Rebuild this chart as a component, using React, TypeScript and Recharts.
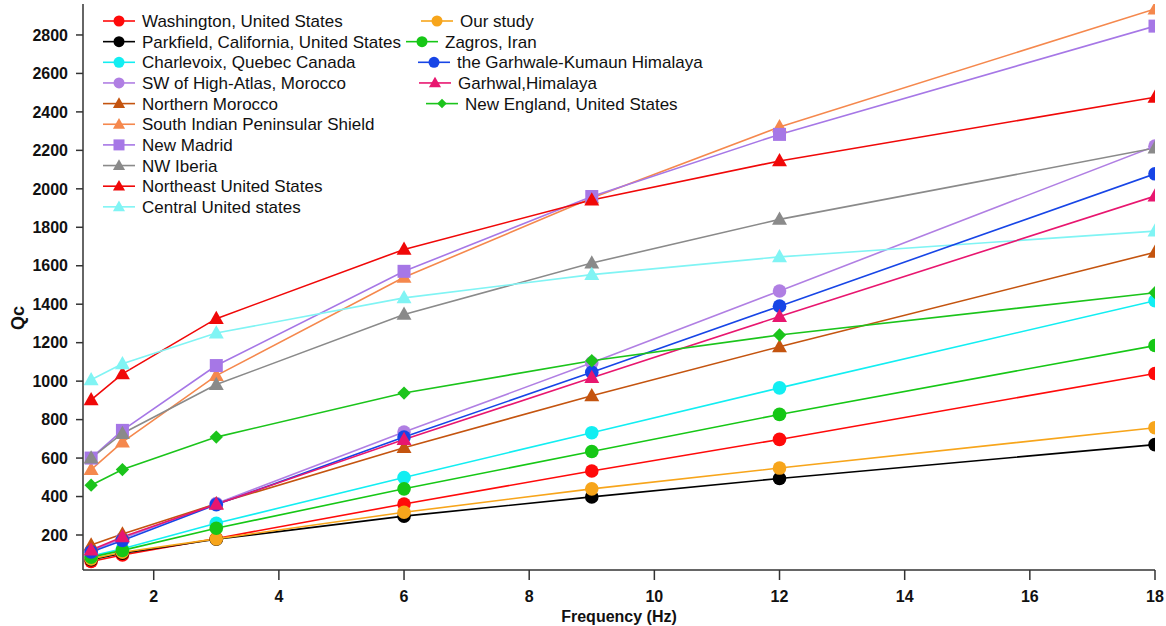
import React from 'react'
import { LineChart, Line, XAxis, YAxis, Legend } from 'recharts'

// frequencies (Hz) where Qc was estimated
const freqs = [1, 1.5, 3, 6, 9, 12, 18]

// Qc values per study, one entry per frequency
const washington = [62, 96, 182, 361, 533, 697, 1040]
const parkfield = [72, 105, 178, 298, 398, 494, 670]
const charlevoix = [90, 128, 261, 499, 732, 965, 1418]
const highAtlas = [118, 182, 364, 735, 1095, 1469, 2222]
const northernMorocco = [148, 205, 362, 654, 924, 1179, 1670]
const southIndian = [540, 683, 1029, 1540, 1952, 2322, 2935]
const newMadrid = [600, 744, 1081, 1571, 1960, 2283, 2846]
const nwIberia = [600, 728, 982, 1347, 1614, 1841, 2212]
const northeastUS = [903, 1038, 1325, 1685, 1942, 2145, 2476]
const centralUS = [1007, 1090, 1250, 1433, 1554, 1646, 1780]
const ourStudy = [76, 110, 180, 318, 440, 548, 758]
const zagros = [85, 120, 235, 440, 634, 827, 1185]
const garhwaleKumaun = [112, 172, 358, 709, 1046, 1390, 2078]
const garhwal = [122, 190, 360, 696, 1018, 1336, 1962]
const newEngland = [459, 540, 709, 938, 1106, 1240, 1460]

const xTicks = [2, 4, 6, 8, 10, 12, 14, 16, 18]
const yTicks = [200, 400, 600, 800, 1000, 1200, 1400, 1600, 1800, 2000, 2200, 2400, 2600, 2800]

const series = [
  { key: 'wa', name: 'Washington, United States', values: washington, color: '#ff0a0a', shape: 'circle' },
  { key: 'pf', name: 'Parkfield, California, United States', values: parkfield, color: '#000000', shape: 'circle' },
  { key: 'ch', name: 'Charlevoix, Quebec Canada', values: charlevoix, color: '#12eef2', shape: 'circle' },
  { key: 'ha', name: 'SW of High-Atlas, Morocco', values: highAtlas, color: '#b07fe3', shape: 'circle' },
  { key: 'nm', name: 'Northern Morocco', values: northernMorocco, color: '#c4540f', shape: 'triangle' },
  { key: 'si', name: 'South Indian Peninsular Shield', values: southIndian, color: '#f5884d', shape: 'triangle' },
  { key: 'md', name: 'New Madrid', values: newMadrid, color: '#a677e6', shape: 'square' },
  { key: 'ib', name: 'NW Iberia', values: nwIberia, color: '#8a8a8a', shape: 'triangle' },
  { key: 'ne', name: 'Northeast United States', values: northeastUS, color: '#f00808', shape: 'triangle' },
  { key: 'cu', name: 'Central United states', values: centralUS, color: '#80f4f4', shape: 'triangle' },
  { key: 'os', name: 'Our study', values: ourStudy, color: '#f7a51b', shape: 'circle' },
  { key: 'zg', name: 'Zagros, Iran', values: zagros, color: '#16c716', shape: 'circle' },
  { key: 'gk', name: 'the Garhwale-Kumaun Himalaya', values: garhwaleKumaun, color: '#1745e6', shape: 'circle' },
  { key: 'gh', name: 'Garhwal,Himalaya', values: garhwal, color: '#e8166f', shape: 'triangle' },
  { key: 'ng', name: 'New England, United States', values: newEngland, color: '#1bc41b', shape: 'diamond' },
]

// where each legend entry sits (line start x, row index)
const legendSlots = [
  [103, 0], [103, 1], [103, 2], [103, 3], [103, 4], [103, 5], [103, 6], [103, 7], [103, 8], [103, 9],
  [421, 0], [406, 1], [418, 2], [419, 3], [426, 4],
]

const data = freqs.map((f, i) => {
  const row: any = { f }
  series.forEach(s => { row[s.key] = s.values[i] })
  return row
})

const FONT = '"Liberation Sans", Arial, sans-serif'

function Marker({ cx, cy, shape, color, size }: any) {
  if (cx == null || cy == null) return null
  if (shape === 'circle') return <circle cx={cx} cy={cy} r={size} fill={color} />
  if (shape === 'square') {
    return <rect x={cx - size} y={cy - size} width={size * 2} height={size * 2} fill={color} />
  }
  if (shape === 'diamond') {
    const d = size * 0.95
    return <polygon points={`${cx},${cy - d} ${cx + d},${cy} ${cx},${cy + d} ${cx - d},${cy}`} fill={color} />
  }
  const w = size * 1.1
  return (
    <polygon
      points={`${cx},${cy - size * 1.15} ${cx + w},${cy + size * 0.8} ${cx - w},${cy + size * 0.8}`}
      fill={color}
    />
  )
}

function LegendBox() {
  return (
    <svg width={760} height={220} style={{ display: 'block' }}>
      {series.map((s, i) => {
        const [x0, row] = legendSlots[i]
        const y = 21 + row * 20.65
        return (
          <g key={s.key}>
            <line x1={x0} x2={x0 + 32} y1={y} y2={y} stroke={s.color} strokeWidth={1.6} />
            <Marker cx={x0 + 16} cy={y} shape={s.shape} color={s.color} size={s.shape === 'diamond' ? 5 : 5.5} />
            <text x={x0 + 39} y={y + 6} fontSize={17} fontFamily={FONT} fill="#111">
              {s.name}
            </text>
          </g>
        )
      })}
    </svg>
  )
}

const tickStyle = { fontSize: 16, fontWeight: 'bold', fontFamily: FONT, fill: '#111' }
const axisLine = { stroke: '#333', strokeWidth: 1.5 }

export default function App() {
  return (
    <div style={{ width: 1166, height: 626, background: '#fff' }}>
      <style>{'body{margin:0}'}</style>
      <LineChart width={1166} height={626} data={data} margin={{ top: 4, right: 11, bottom: 0, left: 0 }}>
        <XAxis
          dataKey="f"
          type="number"
          domain={[0.87, 18]}
          ticks={xTicks}
          allowDataOverflow
          height={56}
          tickSize={10}
          tickMargin={11}
          tick={tickStyle}
          axisLine={axisLine}
          tickLine={axisLine}
          label={{
            value: 'Frequency (Hz)',
            position: 'insideBottom',
            offset: 4,
            style: { fontSize: 16, fontWeight: 'bold', fontFamily: FONT, fill: '#111' },
          }}
        />
        <YAxis
          type="number"
          domain={[18, 2961]}
          ticks={yTicks}
          allowDataOverflow
          width={83}
          tickSize={7}
          tickMargin={8}
          tick={tickStyle}
          axisLine={axisLine}
          tickLine={axisLine}
          label={{
            content: () => (
              <text
                x={18}
                y={318}
                transform="rotate(-90 18 318)"
                textAnchor="middle"
                dominantBaseline="central"
                fontSize={18}
                fontWeight="bold"
                fontFamily={FONT}
                fill="#111"
              >
                Qc
              </text>
            ),
          }}
        />
        <Legend
          layout="horizontal"
          verticalAlign="middle"
          align="center"
          wrapperStyle={{ top: 0, left: 0, width: 760, height: 220 }}
          content={() => <LegendBox />}
        />
        {series.map(s => (
          <Line
            key={s.key}
            dataKey={s.key}
            name={s.name}
            type="linear"
            stroke={s.color}
            strokeWidth={1.6}
            isAnimationActive={false}
            dot={(p: any) => (
              <Marker
                key={`${s.key}-${p.index}`}
                cx={p.cx}
                cy={p.cy}
                shape={s.shape}
                color={s.color}
                size={s.shape === 'diamond' ? 7 : s.shape === 'square' ? 6.5 : 6.8}
              />
            )}
            activeDot={false}
          />
        ))}
      </LineChart>
    </div>
  )
}
